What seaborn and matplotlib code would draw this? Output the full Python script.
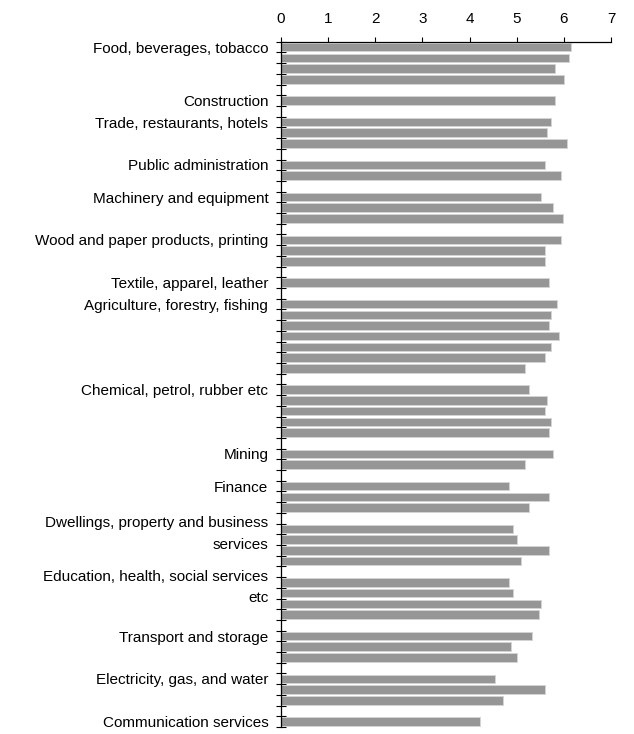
"""
Horizontal bar chart of sector scores, grouped by industry
"""

import numpy as np
import pandas as pd
import matplotlib
matplotlib.use('Agg')
import matplotlib.pyplot as plt
import seaborn as sns

# industry groups, and the bar values inside each group (top to bottom)
group_names = ['Food, beverages, tobacco', 'Construction', 'Trade, restaurants, hotels',
               'Public administration', 'Machinery and equipment',
               'Wood and paper products, printing', 'Textile, apparel, leather',
               'Agriculture, forestry, fishing', 'Chemical, petrol, rubber etc',
               'Mining', 'Finance', 'Dwellings, property and business\nservices',
               'Education, health, social services\netc', 'Transport and storage',
               'Electricity, gas, and water', 'Communication services']

food = [6.14, 6.10, 5.80, 6.01]
construction = [5.80]
trade = [5.72, 5.63, 6.06]
public_admin = [5.59, 5.93]
machinery = [5.51, 5.76, 5.97]
wood = [5.93, 5.59, 5.59]
textile = [5.68]
agriculture = [5.85, 5.72, 5.68, 5.89, 5.72, 5.59, 5.17]
chemical = [5.25, 5.63, 5.59, 5.72, 5.68]
mining = [5.76, 5.17]
finance = [4.83, 5.68, 5.25]
dwellings = [4.91, 5.00, 5.68, 5.08]
education = [4.83, 4.91, 5.51, 5.46]
transport = [5.33, 4.87, 5.00]
electricity = [4.53, 5.59, 4.70]
communication = [4.23]

group_values = [food, construction, trade, public_admin, machinery, wood, textile,
                agriculture, chemical, mining, finance, dwellings, education,
                transport, electricity, communication]

x_ticks = [0, 1, 2, 3, 4, 5, 6, 7]

# build one row per bar, with an empty row between groups
rows, vals, label_rows = [], [], []
r = 0
for gi, (name, gv) in enumerate(zip(group_names, group_values)):
    label_rows.append(r)
    for v in gv:
        rows.append(r)
        vals.append(v)
        r += 1
    if gi < len(group_names) - 1:
        r += 1   # blank category
n_rows = r

df = pd.DataFrame({'row': rows, 'value': vals})

sns.set_style('white')
plt.rcParams['font.family'] = ['Liberation Sans', 'DejaVu Sans']

fig = plt.figure(figsize=(6.34, 7.34), dpi=100)
ax = fig.add_axes([0.443, 0.0095, 0.521, 0.9336])

sns.barplot(data=df, x='value', y='row', orient='h', order=list(range(n_rows)),
            color='#969696', saturation=1, width=0.8, errorbar=None,
            edgecolor='#d4d4d4', linewidth=0.7, ax=ax)

ax.set_xlim(0, 7)
ax.set_ylim(n_rows - 0.5, -0.5)
ax.xaxis.tick_top()
ax.set_xticks(x_ticks)
ax.set_xticklabels([str(t) for t in x_ticks], fontsize=11)
ax.tick_params(axis='x', top=True, bottom=False, direction='out', length=3.5,
               width=0.8, pad=8, colors='black', labelcolor='black')

# ticks between categories, labels on the first row of each group
ax.set_yticks(np.arange(-0.5, n_rows, 1))
ax.set_yticklabels([])
ax.tick_params(axis='y', which='major', left=True, direction='inout', length=6.5,
               width=0.8, color='black')
ax.set_yticks(label_rows, minor=True)
ax.set_yticklabels(group_names, minor=True, fontsize=11, linespacing=1.65,
                   color='black')
ax.tick_params(axis='y', which='minor', left=True, length=0, pad=9)

ax.set_xlabel('')
ax.set_ylabel('')
for side in ['right', 'bottom']:
    ax.spines[side].set_visible(False)
for side in ['left', 'top']:
    ax.spines[side].set_color('black')
    ax.spines[side].set_linewidth(0.9)

plt.savefig('out.png', dpi=100)
plt.close()
